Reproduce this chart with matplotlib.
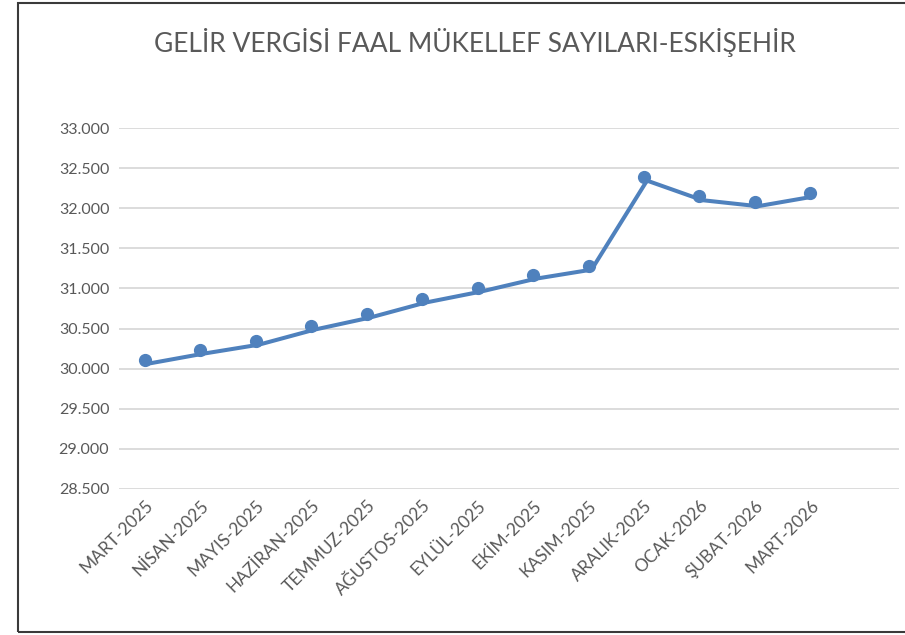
import matplotlib
matplotlib.use('Agg')
import matplotlib.pyplot as plt
from matplotlib.patches import Rectangle
from matplotlib.ticker import FuncFormatter
from matplotlib.transforms import offset_copy

plt.rcParams['font.family'] = ['Lato', 'DejaVu Sans']

# ─────────────────────────────────────────────
# DONNÉES
# ─────────────────────────────────────────────
aylar = ['MART-2025', 'NİSAN-2025', 'MAYIS-2025', 'HAZİRAN-2025', 'TEMMUZ-2025',
         'AĞUSTOS-2025', 'EYLÜL-2025', 'EKİM-2025', 'KASIM-2025', 'ARALIK-2025',
         'OCAK-2026', 'ŞUBAT-2026', 'MART-2026']
mukellef = [30112, 30237, 30349, 30536, 30686, 30873, 31010,
            31172, 31284, 32394, 32150, 32075, 32195]
y_ticks = [28500, 29000, 29500, 30000, 30500, 31000, 31500, 32000, 32500, 33000]

baslik = 'GELİR VERGİSİ FAAL MÜKELLEF SAYILARI-ESKİŞEHİR'

mavi = '#4f81bd'
gri = '#595959'

fig = plt.figure(figsize=(9.05, 6.35), dpi=100)
ax = fig.add_axes([119 / 905, 1 - 489 / 635, 780 / 905, 361 / 635])

x = list(range(len(aylar)))

# ligne légèrement décalée (effet ombre d'Excel), puis les marqueurs
trans = offset_copy(ax.transData, fig=fig, x=3, y=-4, units='dots')
ax.plot(x, mukellef, color=mavi, lw=2.9, transform=trans, zorder=3,
        solid_joinstyle='round', solid_capstyle='round')
ax.plot(x, mukellef, 'o', color=mavi, ms=8.5, zorder=4)

ax.set_xlim(-0.47, 13.6)
ax.set_ylim(y_ticks[0], y_ticks[-1])
ax.set_yticks(y_ticks)
ax.yaxis.set_major_formatter(FuncFormatter(lambda v, p: f'{int(v):,}'.replace(',', '.')))
ax.set_xticks(x)
ax.set_xticklabels(aylar, rotation=45, ha='right', rotation_mode='anchor')

ax.grid(axis='y', color='#d9d9d9', lw=1.3)
ax.set_axisbelow(True)
for s in ax.spines.values():
    s.set_visible(False)
ax.tick_params(axis='both', length=0, colors=gri)
ax.tick_params(axis='y', pad=7, labelsize=11.5)
ax.tick_params(axis='x', pad=6, labelsize=12.5)

fig.text(0.525, 0.933, baslik, ha='center', va='center', fontsize=19, color=gri)

# cadre de la figure
fig.patches.append(Rectangle((18 / 905, 3 / 635), 1.0, 1 - 6 / 635,
                             transform=fig.transFigure, fill=False,
                             ec='#3a3a3a', lw=1.5))

plt.savefig('out.png', dpi=100)
